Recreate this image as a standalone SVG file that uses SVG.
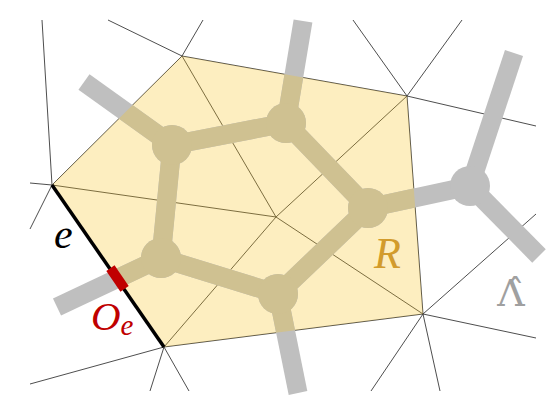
<svg xmlns="http://www.w3.org/2000/svg" width="557" height="396" viewBox="0 0 557 396">
<style>
.thin{stroke:#3a3a3a;stroke-width:0.9;fill:none}
.bar{stroke:currentColor;stroke-width:19;fill:none;stroke-linecap:butt}
.node{fill:currentColor}
.lbl{font-family:"Liberation Serif","Times New Roman",serif}
</style>
<defs>
<clipPath id="clipR"><polygon points="52,185 182,56 407,96 423,314 164,347"/></clipPath>
</defs>
<rect width="557" height="396" fill="#ffffff"/>
<g id="mesh" class="thin">
<line x1="52" y1="185" x2="42" y2="20"/>
<line x1="52" y1="185" x2="30" y2="183"/>
<line x1="52" y1="185" x2="30" y2="229"/>
<line x1="182" y1="56" x2="108" y2="20"/>
<line x1="182" y1="56" x2="203" y2="20"/>
<line x1="407" y1="96" x2="353" y2="20"/>
<line x1="407" y1="96" x2="462" y2="20"/>
<line x1="407" y1="96" x2="536" y2="126"/>
<line x1="423" y1="314" x2="536" y2="214"/>
<line x1="423" y1="314" x2="536" y2="338"/>
<line x1="423" y1="314" x2="371" y2="391"/>
<line x1="423" y1="314" x2="440" y2="391"/>
<line x1="164" y1="347" x2="30" y2="384"/>
<line x1="164" y1="347" x2="150" y2="391"/>
<line x1="164" y1="347" x2="189" y2="391"/>
<line x1="52" y1="185" x2="276" y2="217"/>
<line x1="182" y1="56" x2="276" y2="217"/>
<line x1="407" y1="96" x2="276" y2="217"/>
<line x1="423" y1="314" x2="276" y2="217"/>
<line x1="164" y1="347" x2="276" y2="217"/>
<polygon points="52,185 182,56 407,96 423,314 164,347"/>
</g>
<polygon id="R" points="52,185 182,56 407,96 423,314 164,347" fill="#f8c21e" fill-opacity="0.28"/>
<g color="#bfbfbf">
<g id="graph">
<g id="connectors">
<line class="bar" x1="172" y1="145" x2="286" y2="123"/>
<line class="bar" x1="286" y1="123" x2="368" y2="208"/>
<line class="bar" x1="368" y1="208" x2="278" y2="294"/>
<line class="bar" x1="278" y1="294" x2="161" y2="258"/>
<line class="bar" x1="161" y1="258" x2="172" y2="145"/>
<line class="bar" x1="368" y1="208" x2="470" y2="186"/>
<line class="bar" x1="172" y1="145" x2="84" y2="82"/>
<line class="bar" x1="286" y1="123" x2="303" y2="21"/>
<line class="bar" x1="278" y1="294" x2="298" y2="393"/>
<line class="bar" x1="161" y1="258" x2="57" y2="307"/>
<line class="bar" x1="470" y1="186" x2="514" y2="53"/>
<line class="bar" x1="470" y1="186" x2="539" y2="256"/>
</g>
<g id="n1"><circle class="node" cx="172" cy="145" r="20"/></g>
<g id="n2"><circle class="node" cx="286" cy="123" r="20"/></g>
<g id="n3"><circle class="node" cx="368" cy="208" r="20"/></g>
<g id="n4"><circle class="node" cx="278" cy="294" r="20"/></g>
<g id="n5"><circle class="node" cx="161" cy="258" r="20"/></g>
<g id="n6"><circle class="node" cx="470" cy="186" r="20"/></g>
</g>
</g>
<use href="#graph" color="#cfc191" clip-path="url(#clipR)"/>
<g id="edge-e">
<line x1="52" y1="185" x2="164" y2="347" stroke="#000000" stroke-width="3.5"/>
<rect x="-12.5" y="-5" width="25" height="10" fill="#c00000" transform="translate(117.5,278.5) rotate(55.5)"/>
</g>
<g id="labels" class="lbl">
<text x="54" y="248" font-size="42" font-style="italic" fill="#000000">e</text>
<text x="91" y="330" font-size="41" font-style="italic" fill="#c00000">O<tspan font-size="29" dy="5">e</tspan></text>
<text x="374" y="268" font-size="44" font-style="italic" fill="#d29b2c">R</text>
<text x="511" y="306" font-size="38" text-anchor="middle" fill="#a0a0a0" style="font-family:'DejaVu Serif',serif">Λ̂</text>
</g>
</svg>
